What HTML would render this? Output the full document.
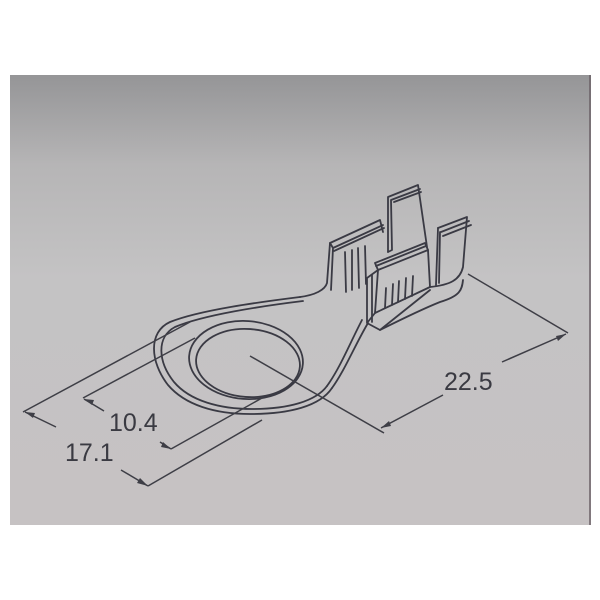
<!DOCTYPE html>
<html><head><style>
html,body{margin:0;padding:0;background:#fff;width:600px;height:600px;overflow:hidden}
</style></head><body>
<svg width="600" height="600" viewBox="0 0 600 600" xmlns="http://www.w3.org/2000/svg">
<defs>
<linearGradient id="bg" x1="0" y1="0" x2="0" y2="1">
<stop offset="0" stop-color="#959597"/>
<stop offset="0.2" stop-color="#b6b5b6"/>
<stop offset="0.45" stop-color="#c4c3c4"/>
<stop offset="1" stop-color="#c6c2c3"/>
</linearGradient>
</defs>
<rect x="10" y="75" width="581" height="450" fill="url(#bg)"/>
<line x1="590" y1="75" x2="590" y2="525" stroke="#6a6066" stroke-width="1.5"/>
<g fill="none" stroke="#3a3a44" stroke-width="1.8" stroke-linecap="round" stroke-linejoin="round">
<path d="M300,297 C260,302 200,310 170,322 C148,332 150,362 168,385 C185,405 215,414 250,414 C290,414 320,406 332,388"/>
<path d="M303,301 C262,306 203,315 175,327 C156,337 158,362 174,382 C190,401 220,409 252,409 C289,409 316,401 327,386"/>
<ellipse cx="246" cy="360" rx="57" ry="39" transform="rotate(4 246 360)"/>
<ellipse cx="248" cy="363" rx="52" ry="34" transform="rotate(4 248 363)"/>
<path d="M332,388 C345,370 355,345 368,323"/>
<path d="M327,386 C340,368 350,343 362,320"/>
<path d="M300,297 C315,295 325,290 327,283 L330,243 L380,220 L383,232"/>
<path d="M330,243 L333,248 L383,225 M333,248 L331,290"/>
<path d="M334,251 L384,228"/>
<path d="M388,252 L388,197 L418,185 L427,247"/>
<path d="M392,250 L391,200 L420,189 M394,202 L421,192 M392,250 L388,252"/>
<path d="M378,270 L428,250 L430,287 L375,313 Z"/>
<path d="M378,270 L375,263 L425,243 L428,250 M376,266 L426,246"/>
<path d="M375,313 L367,323 L380,330 L430,290 M367,323 L367,278 L378,270"/>
<path d="M372,322 L372,275"/>
<path d="M385,308 L386,288 M392,305 L393,284 M398,302 L399,281 M405,299 L406,278 M412,296 L413,276"/>
<path d="M352,250 L352,290 M358,248 L359,288 M365,246 L366,284 M345,252 L346,292"/>
<path d="M438,228 L467,217 L463,267 C460,280 450,285 430,287"/>
<path d="M438,228 L436,285 M441,232 L469,221 M443,236 L471,225 M440,232 L439,283"/>
<path d="M380,330 C400,320 420,310 440,302 C460,296 462,290 463,280"/>
</g>
<g stroke="#3e3e46" stroke-width="1.5" fill="none">
<line x1="468" y1="274" x2="568" y2="333"/>
<line x1="566" y1="334" x2="502" y2="362"/>
<line x1="443" y1="395" x2="381" y2="428"/>
<line x1="250" y1="356" x2="384" y2="433"/>
<line x1="23" y1="412" x2="190" y2="322"/>
<line x1="25" y1="412" x2="56" y2="427"/>
<line x1="121" y1="470" x2="148" y2="486"/>
<line x1="148" y1="486" x2="262" y2="420"/>
<line x1="83" y1="398" x2="195" y2="338"/>
<line x1="84" y1="399" x2="104" y2="411"/>
<line x1="160" y1="442" x2="171" y2="449"/>
<line x1="171" y1="449" x2="262" y2="398"/>
</g>
<g fill="#3e3e46">
<polygon points="566,334 556,336 558,341"/>
<polygon points="381,428 391,426 389,421"/>
<polygon points="25,412 35,413 33,418"/>
<polygon points="148,486 137,483 140,478"/>
<polygon points="84,399 94,400 92,405"/>
<polygon points="171,449 161,447 163,442"/>
</g>
<g font-family="Liberation Sans, sans-serif" font-size="25" fill="#3a3a42">
<text x="444" y="390">22.5</text>
<text x="109" y="431">10.4</text>
<text x="65" y="461">17.1</text>
</g>
</svg>
</body></html>
